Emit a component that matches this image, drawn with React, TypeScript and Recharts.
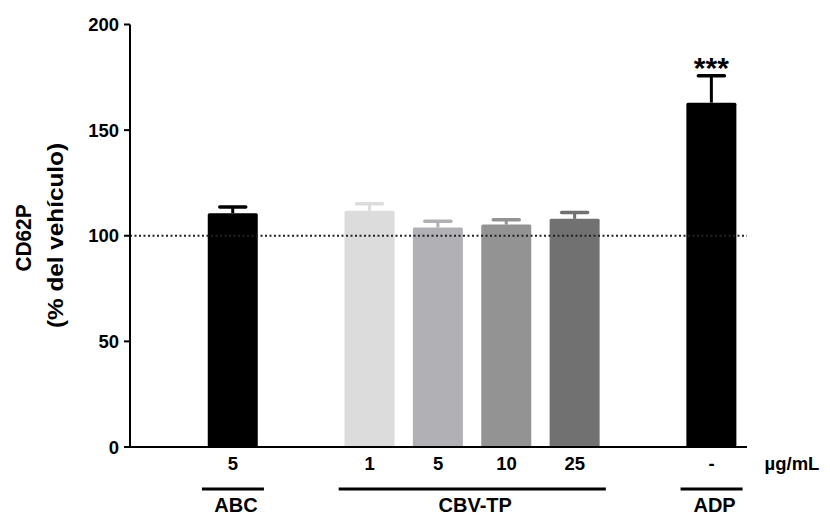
import { BarChart, Bar, XAxis, YAxis, ReferenceLine } from "recharts";

// dose labels per slot ("" = empty gap slot)
const doses = ["5", "", "1", "5", "10", "25", "", "-"];
const groups = ["ABC", "", "CBV-TP", "CBV-TP", "CBV-TP", "CBV-TP", "", "ADP"];
const means = [110.7, null, 111.8, 103.9, 105.3, 108.0, null, 163.0];
const sems = [2.9, null, 3.3, 3.0, 2.3, 3.0, null, 12.7];
const stars = ["", "", "", "", "", "", "", "***"];
const colors = ["#000000", "", "#dcdcdc", "#b1b1b5", "#939393", "#717171", "", "#000000"];
const yTicks = [0, 50, 100, 150, 200];

const rows = doses.map((d, i) => ({
  dose: d,
  mean: means[i],
  sem: sems[i],
  color: colors[i],
  star: stars[i],
}));

const FONT = "'Liberation Sans', Arial, sans-serif";

const BarWithError = (props: any) => {
  const { x, y, width, height, payload } = props;
  if (!payload || payload.mean == null || !height) return <g />;
  const pxPerUnit = height / payload.mean;
  const top = y - payload.sem * pxPerUnit;
  const cx = x + width / 2;
  return (
    <g>
      <rect x={x} y={y} width={width} height={height} fill={payload.color} rx={1.5} />
      <line x1={cx} x2={cx} y1={y} y2={top} stroke={payload.color} strokeWidth={3} />
      <line x1={cx - 13} x2={cx + 13} y1={top} y2={top} stroke={payload.color} strokeWidth={3.5} strokeLinecap="round" />
      {payload.star && (
        <text x={cx} y={top + 2} textAnchor="middle" fontSize={30} fontWeight="bold" fontFamily={FONT} fill="#000">
          {payload.star}
        </text>
      )}
    </g>
  );
};

const DoseTick = (props: any) => {
  const { x, y, index, payload } = props;
  const half = payload?.offset || 34.25;
  const g = groups[index];
  const first = groups.indexOf(g);
  const last = groups.lastIndexOf(g);
  const over = 31;
  return (
    <g>
      {doses[index] && (
        <text x={x} y={y + 22.5} textAnchor="middle" fontSize={18.5} fontWeight="bold" fontFamily={FONT} fill="#000">
          {doses[index]}
        </text>
      )}
      {g && index === first && (
        <>
          <line
            x1={x - over}
            x2={x + (last - first) * 2 * half + over}
            y1={y + 42}
            y2={y + 42}
            stroke="#000"
            strokeWidth={3}
          />
          <text
            x={x + (last - first) * half + 3}
            y={y + 65}
            textAnchor="middle"
            fontSize={20}
            fontWeight="bold"
            fontFamily={FONT}
            fill="#000"
          >
            {g}
          </text>
        </>
      )}
    </g>
  );
};

const YLabel = () => (
  <g>
    <text
      x={0}
      y={0}
      transform="translate(30.5,238) rotate(-90)"
      textAnchor="middle"
      fontSize={22}
      fontWeight="bold"
      fontFamily={FONT}
      fill="#000"
      textLength={67}
      lengthAdjust="spacingAndGlyphs"
    >
      CD62P
    </text>
    <text
      x={0}
      y={0}
      transform="translate(63,235.5) rotate(-90)"
      textAnchor="middle"
      fontSize={22}
      fontWeight="bold"
      fontFamily={FONT}
      fill="#000"
      textLength={185}
      lengthAdjust="spacingAndGlyphs"
    >
      (% del vehículo)
    </text>
  </g>
);

const UnitLabel = (props: any) => {
  const vb = props.viewBox || {};
  return (
    <text
      x={vb.x + vb.width + 45}
      y={vb.y + 22.5}
      textAnchor="middle"
      fontSize={18.5}
      fontWeight="bold"
      fontFamily={FONT}
      fill="#000"
    >
      µg/mL
    </text>
  );
};

export default function App() {
  return (
    <div style={{ position: "absolute", top: 0, left: 0, width: 830, height: 517, background: "#fff", fontFamily: FONT }}>
      <BarChart
        width={830}
        height={517}
        data={rows}
        margin={{ top: 24.5, right: 83, bottom: 0, left: 70 }}
        barSize={50}
      >
        <YAxis
          width={60}
          domain={[0, 200]}
          ticks={yTicks}
          interval={0}
          axisLine={{ stroke: "#000", strokeWidth: 2 }}
          tickLine={{ stroke: "#000", strokeWidth: 2 }}
          tickSize={6}
          tickMargin={5}
          tick={{ fill: "#000", fontSize: 18.5, fontWeight: "bold", fontFamily: FONT }}
          label={{ content: <YLabel /> }}
        />
        <XAxis
          dataKey="dose"
          height={70}
          interval={0}
          padding={{ left: 68.75, right: 1.25 }}
          axisLine={{ stroke: "#000", strokeWidth: 2 }}
          tickLine={false}
          tickSize={0}
          tickMargin={0}
          tick={<DoseTick />}
          label={{ content: <UnitLabel /> }}
        />
        <ReferenceLine y={100} stroke="#222" strokeWidth={2} strokeDasharray="2 2.5" />
        <Bar dataKey="mean" isAnimationActive={false} shape={<BarWithError />} />
      </BarChart>
    </div>
  );
}
